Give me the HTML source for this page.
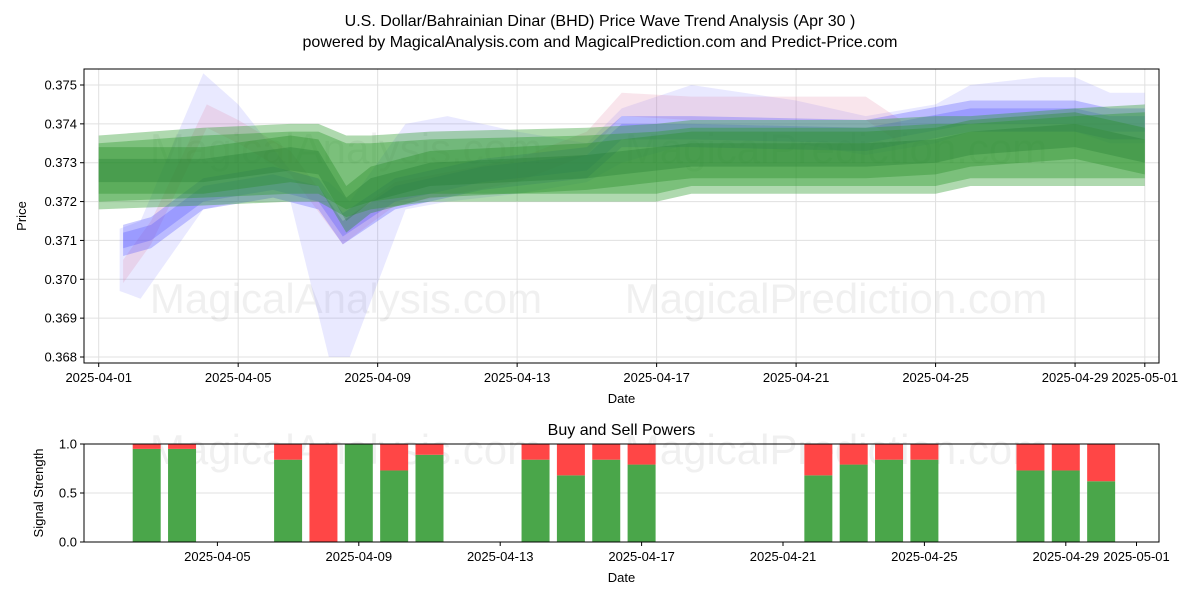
<!DOCTYPE html>
<html><head><meta charset="utf-8">
<style>
body{margin:0;background:#fff;}
svg{display:block;font-family:"Liberation Sans","DejaVu Sans",sans-serif;}
</style></head>
<body>
<svg id="chart" width="1200" height="600" viewBox="0 0 1200 600" xmlns="http://www.w3.org/2000/svg">
<text x="600" y="26" text-anchor="middle" font-size="16">U.S. Dollar/Bahrainian Dinar (BHD) Price Wave Trend Analysis (Apr 30 )</text>
<text x="600" y="47" text-anchor="middle" font-size="16">powered by MagicalAnalysis.com and MagicalPrediction.com and Predict-Price.com</text>
<g id="main"></g>
<g id="bottom"></g>
</svg>
<script>
const NS='http://www.w3.org/2000/svg';
// ---- main chart data ----
const yTicks=[0.368,0.369,0.370,0.371,0.372,0.373,0.374,0.375];
const xTickDays=[0,4,8,12,16,20,24,28,30];
const xTickLabels=['2025-04-01','2025-04-05','2025-04-09','2025-04-13','2025-04-17','2025-04-21','2025-04-25','2025-04-29','2025-05-01'];
const gDays=[0,3,5.5,6.3,7.1,7.8,9.5,14,16,17,20,22,24,25,28,30];
const gHi=[0.3737,0.3739,0.3740,0.3740,0.3737,0.3737,0.3738,0.3739,0.3740,0.3741,0.3741,0.3741,0.3742,0.3742,0.3744,0.3745];
const gLo=[0.3718,0.3719,0.3720,0.3720,0.3716,0.3718,0.3720,0.3720,0.3720,0.3722,0.3722,0.3722,0.3722,0.3724,0.3724,0.3724];
const gMid=[0.3728,0.3728,0.3731,0.3730,0.3718,0.3723,0.3727,0.3729,0.3731,0.3732,0.3732,0.3732,0.3733,0.3735,0.3737,0.3733];
const bDays=[0.6,1.2,3,4,5.5,6.6,7.2,8.8,10,12,14,15,17,20,22,24,25,27,28,29,30];
const bHi=[0.3713,0.3715,0.3753,0.3745,0.3728,0.3725,0.3720,0.3740,0.3742,0.3738,0.3735,0.3744,0.3750,0.3746,0.3742,0.3745,0.3750,0.3752,0.3752,0.3748,0.3748];
const bLo=[0.3697,0.3695,0.3718,0.3720,0.3720,0.3680,0.3680,0.3718,0.3720,0.3722,0.3725,0.3730,0.3735,0.3735,0.3732,0.3735,0.3738,0.3738,0.3738,0.3735,0.3735];
const bcDays=[0.7,1.5,3,5,6.3,7.0,8.5,11,14,15,17,22,25,28,29,30];
const bCenter=[0.3710,0.3712,0.3722,0.3725,0.3722,0.3713,0.3722,0.3727,0.3730,0.3738,0.3738,0.3737,0.3742,0.3742,0.3740,0.3740];
const rDays=[0.7,1.5,3.1,4,5.5,7.0,8.5,12,14,15,17,22,23];
const rCenter=[0.3702,0.3712,0.3742,0.3738,0.3730,0.3712,0.3722,0.3728,0.3735,0.3745,0.3744,0.3744,0.3738];
// ---- bottom chart data ----
const barDays=[2,3,6,7,8,9,10,13,14,15,16,21,22,23,24,27,28,29];
const buyPower=[0.95,0.95,0.84,0.0,1.0,0.73,0.89,0.84,0.68,0.84,0.79,0.68,0.79,0.84,0.84,0.73,0.73,0.62];
const sYTicks=[0,0.5,1.0];

const L=84,R=1159,T=69,B=363;
const xm=d=>98.7+34.87*d;
const ym=v=>85+(0.375-v)*38857;
const xb=d=>76+35.35*d;
const yb=v=>542-v*98;

function mk(tag,attrs,parent){const e=document.createElementNS(NS,tag);for(const k in attrs)e.setAttribute(k,attrs[k]);parent.appendChild(e);return e;}
const main=document.getElementById('main');
const bottom=document.getElementById('bottom');

yTicks.forEach(v=>{const l=mk('line',{x1:L,x2:R,y1:ym(v),y2:ym(v),stroke:'#e0e0e0','stroke-width':1},main);

});
xTickDays.forEach(d=>{const l=mk('line',{x1:xm(d),x2:xm(d),y1:T,y2:B,stroke:'#e0e0e0','stroke-width':1},main);

});

[['MagicalAnalysis.com',346,163],['MagicalPrediction.com',836,163],['MagicalAnalysis.com',346,313],['MagicalPrediction.com',836,313]].forEach(w=>{
const t=mk('text',{x:w[1],y:w[2],'text-anchor':'middle','font-size':42,fill:'#000','fill-opacity':0.06},main);t.textContent=w[0];

});

function band(days,hi,lo,fill,op,name){
let p=days.map((d,i)=>xm(d)+','+ym(hi[i]));
for(let i=days.length-1;i>=0;i--)p.push(xm(days[i])+','+ym(lo[i]));
const e=mk('polygon',{points:p.join(' '),fill:fill,'fill-opacity':op,'stroke-linejoin':'round'},main);

return e;}

band(bDays,bHi,bLo,'#6a6aff',0.15,'blue-wave-outer');
band(rDays,rCenter.map(v=>v+0.0003),rCenter.map(v=>v-0.0003),'#e37fa0',0.2,'red-wave');
band(bcDays,bCenter.map(v=>v+0.0004),bCenter.map(v=>v-0.0004),'#5050ff',0.3,'blue-wave-inner');
band(bcDays,bCenter.map(v=>v+0.0002),bCenter.map(v=>v-0.0002),'#4040ff',0.25,'blue-wave-core');
band(gDays,gHi,gLo,'#2e9a2e',0.38,'green-wave-outer');
band(gDays,gHi.map(v=>v-0.0002),gLo.map(v=>v+0.0002),'#2e9a2e',0.4,'green-wave-mid');
band(gDays,gMid.map(v=>v+0.0006),gMid.map(v=>v-0.0006),'#2a8f2a',0.38,'green-wave-trend');
band(gDays,gMid.map(v=>v+0.0003),gMid.map(v=>v-0.0003),'#1f7a2f',0.3,'green-wave-core');

mk('rect',{x:L,y:T,width:R-L,height:B-T,fill:'none',stroke:'#000','stroke-width':1},main);
yTicks.forEach(v=>{mk('line',{x1:L-4,x2:L,y1:ym(v),y2:ym(v),stroke:'#000'},main);
const t=mk('text',{x:L-7,y:ym(v)+4.5,'text-anchor':'end','font-size':13},main);t.textContent=v.toFixed(3);

});
xTickDays.forEach((d,i)=>{mk('line',{x1:xm(d),x2:xm(d),y1:B,y2:B+4,stroke:'#000'},main);
const t=mk('text',{x:xm(d),y:B+19,'text-anchor':'middle','font-size':13},main);t.textContent=xTickLabels[i];

});
let t=mk('text',{x:(L+R)/2,y:403,'text-anchor':'middle','font-size':13},main);t.textContent='Date';


t=mk('text',{x:26,y:216,'text-anchor':'middle','font-size':13,transform:'rotate(-90 26 216)'},main);t.textContent='Price';



const BT=444,BB=542;
t=mk('text',{x:(L+R)/2,y:435,'text-anchor':'middle','font-size':16},bottom);t.textContent='Buy and Sell Powers';


sYTicks.forEach(v=>{const l=mk('line',{x1:L,x2:R,y1:yb(v),y2:yb(v),stroke:'#e0e0e0'},bottom);

});
[['MagicalAnalysis.com',346,464],['MagicalPrediction.com',836,464]].forEach(w=>{
const tt=mk('text',{x:w[1],y:w[2],'text-anchor':'middle','font-size':42,fill:'#000','fill-opacity':0.06},bottom);tt.textContent=w[0];

});
barDays.forEach((d,i)=>{const bw=28,x=xb(d)-bw/2;
const g=mk('rect',{x:x,y:yb(buyPower[i]),width:bw,height:yb(0)-yb(buyPower[i]),fill:'#4aa64a'},bottom);


const r=mk('rect',{x:x,y:yb(1),width:bw,height:yb(buyPower[i])-yb(1),fill:'#ff4646'},bottom);

});
mk('rect',{x:L,y:BT,width:R-L,height:BB-BT,fill:'none',stroke:'#000'},bottom);
sYTicks.forEach(v=>{mk('line',{x1:L-4,x2:L,y1:yb(v),y2:yb(v),stroke:'#000'},bottom);
const tt=mk('text',{x:L-7,y:yb(v)+4.5,'text-anchor':'end','font-size':13},bottom);tt.textContent=v.toFixed(1);

});
xTickDays.slice(1).forEach((d,i)=>{mk('line',{x1:xb(d),x2:xb(d),y1:BB,y2:BB+4,stroke:'#000'},bottom);
const tt=mk('text',{x:xb(d),y:BB+19,'text-anchor':'middle','font-size':13},bottom);tt.textContent=xTickLabels[i+1];

});
t=mk('text',{x:(L+R)/2,y:582,'text-anchor':'middle','font-size':13},bottom);t.textContent='Date';


t=mk('text',{x:43,y:493,'text-anchor':'middle','font-size':13,transform:'rotate(-90 43 493)'},bottom);t.textContent='Signal Strength';


</script>
</body></html>
